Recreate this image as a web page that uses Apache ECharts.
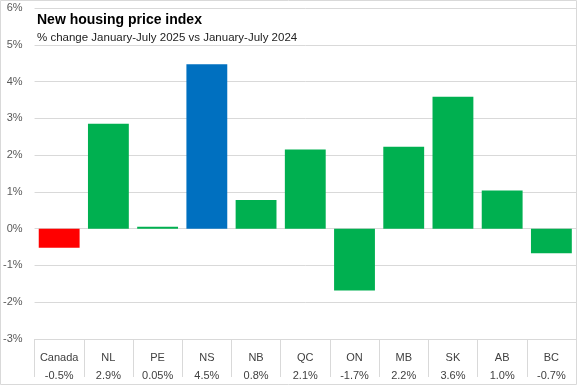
<!DOCTYPE html>
<html><head><meta charset="utf-8">
<script src="https://cdn.jsdelivr.net/npm/echarts@6/dist/echarts.min.js"></script>
<style>html,body{margin:0;padding:0;background:#fff}#c{width:577px;height:385px}</style>
</head><body><div id="c"></div>
<script>
const categories = ['Canada','NL','PE','NS','NB','QC','ON','MB','SK','AB','BC'];
const values = [-0.52, 2.85, 0.05, 4.47, 0.78, 2.15, -1.68, 2.23, 3.59, 1.04, -0.67];
const valueLabels = ['-0.5%','2.9%','0.05%','4.5%','0.8%','2.1%','-1.7%','2.2%','3.6%','1.0%','-0.7%'];
const barColors = ['#FF0000','#00B050','#00B050','#0070C0','#00B050','#00B050','#00B050','#00B050','#00B050','#00B050','#00B050'];
const yTicks = {min:-3, max:6, interval:1};
const titleText = 'New housing price index';
const subtitleText = '% change January-July 2025 vs January-July 2024';

const chart = echarts.init(document.getElementById('c'), null, {renderer:'canvas'});
const font = 'Liberation Sans, Arial, sans-serif';
chart.setOption({
  animation:false,
  textStyle:{fontFamily:font},
  title:{
    text:titleText, subtext:subtitleText, left:32, top:8, itemGap:5,
    textStyle:{fontSize:14, fontWeight:'bold', color:'#000', fontFamily:font},
    subtextStyle:{fontSize:11.5, color:'#222', fontFamily:font}
  },
  graphic:[{type:'rect', shape:{x:0.5,y:0.5,width:576,height:384}, style:{fill:'none', stroke:'#d9d9d9', lineWidth:1}, silent:true, z:-1}],
  grid:{left:34, right:1, top:8, bottom:39, containLabel:false},
  xAxis:{
    type:'category', data:categories,
    axisLine:{show:true, onZero:false, lineStyle:{color:'#d9d9d9'}},
    axisTick:{show:true, length:38, interval:0, lineStyle:{color:'#d9d9d9'}},
    axisLabel:{interval:0, margin:10, fontSize:11, color:'#404040', lineHeight:18,
      formatter:(v, i)=> v + '\n' + valueLabels[i]}
  },
  yAxis:{
    type:'value', min:yTicks.min, max:yTicks.max, interval:yTicks.interval,
    axisLabel:{formatter:'{value}%', fontSize:11, color:'#595959', margin:12},
    splitLine:{lineStyle:{color:'#d9d9d9'}},
    axisLine:{show:false}, axisTick:{show:false}
  },
  series:[{
    type:'bar', barCategoryGap:'17%',
    data: values.map((v,i)=>({value:v, itemStyle:{color:barColors[i]}}))
  }]
});
</script></body></html>
